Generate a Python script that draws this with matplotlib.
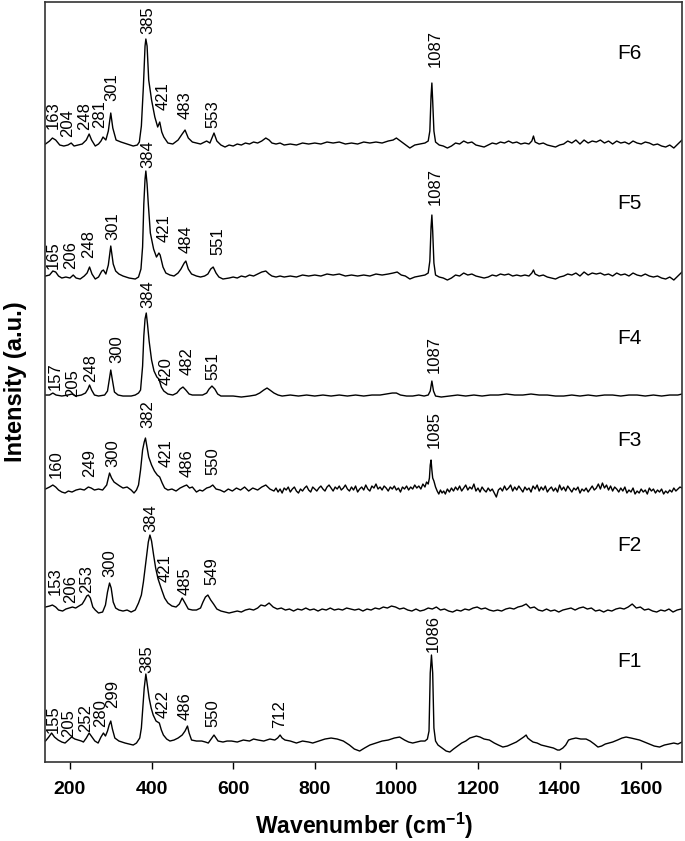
import matplotlib
matplotlib.use("Agg")
import matplotlib.pyplot as plt

plt.rcParams["font.family"] = ["Liberation Sans", "DejaVu Sans"]
plt.rcParams["mathtext.default"] = "regular"

# spectra: (wavenumber, intensity above own baseline, a.u.)
f6 = [(140,2),(150,5),(157,8),(165,6),(175,1),(185,0),(195,1),(203,3),(210,0),(220,1),(230,2),(240,6),(247,12),(253,6),(262,0),(270,2),(276,5),(281,9),(288,6),(294,15),(300,33),(305,18),(313,6),(325,4),(340,2),(355,0),(365,1),(370,4),(375,20),(380,60),(384,100),(386,107),(389,100),(393,66),(400,46),(408,29),(415,19),(420,24),(425,14),(430,9),(440,3),(452,2),(465,6),(475,12),(482,16),(490,8),(500,4),(510,3),(520,2),(535,5),(543,3),(553,13),(560,5),(570,1),(580,-1),(590,1),(600,0),(610,2),(620,1),(630,3),(640,2),(650,4),(660,3),(670,5),(680,8),(688,6),(695,3),(705,2),(715,3),(725,1),(740,2),(755,1),(770,3),(785,2),(800,3),(815,2),(830,4),(845,3),(860,4),(875,2),(890,3),(905,2),(920,4),(935,3),(950,4),(965,3),(980,5),(992,6),(1000,8),(1010,5),(1020,2),(1033,-2),(1045,1),(1058,2),(1070,3),(1078,5),(1082,15),(1085,50),(1087,63),(1089,45),(1092,15),(1096,4),(1105,1),(1115,0),(1125,-2),(1135,0),(1145,3),(1155,2),(1165,5),(1175,3),(1185,4),(1195,1),(1205,0),(1215,-1),(1225,1),(1235,3),(1245,2),(1255,4),(1265,3),(1275,5),(1285,3),(1295,4),(1305,2),(1315,3),(1325,2),(1332,5),(1336,10),(1340,4),(1350,2),(1360,3),(1370,1),(1380,0),(1390,-1),(1400,1),(1410,2),(1420,5),(1430,3),(1440,6),(1450,2),(1460,6),(1470,3),(1480,5),(1490,4),(1500,6),(1510,3),(1520,5),(1530,2),(1540,5),(1550,3),(1560,4),(1570,2),(1580,5),(1590,3),(1600,2),(1610,4),(1620,3),(1630,1),(1640,2),(1650,0),(1660,-1),(1670,1),(1680,-2),(1690,2),(1700,6)]

f5 = [(140,3),(150,4),(158,8),(165,7),(172,3),(180,1),(190,2),(200,1),(208,4),(215,1),(225,0),(235,3),(242,6),(248,12),(254,5),(262,0),(270,2),(278,8),(282,9),(288,5),(294,14),(300,33),(306,15),(312,8),(320,5),(330,3),(345,1),(360,0),(368,2),(374,10),(378,32),(381,75),(384,100),(386,108),(389,95),(392,75),(397,46),(405,30),(412,22),(418,26),(421,24),(428,12),(435,6),(445,4),(455,3),(465,6),(472,10),(480,16),(484,18),(490,10),(498,5),(510,3),(520,2),(530,3),(538,5),(545,10),(551,12),(558,6),(565,2),(575,0),(590,1),(600,2),(610,1),(620,3),(630,2),(640,4),(650,3),(660,5),(670,7),(680,8),(688,5),(695,3),(705,2),(715,3),(725,2),(740,3),(755,2),(770,4),(785,3),(800,4),(815,3),(830,5),(845,4),(860,5),(875,3),(890,4),(905,3),(920,4),(935,3),(950,5),(965,4),(980,5),(992,6),(1002,7),(1012,4),(1022,3),(1033,0),(1045,2),(1058,3),(1070,4),(1078,6),(1082,18),(1085,52),(1087,64),(1089,48),(1092,16),(1096,4),(1105,2),(1115,1),(1125,-1),(1135,1),(1145,4),(1155,3),(1165,6),(1175,4),(1185,5),(1195,3),(1205,2),(1215,1),(1225,2),(1235,4),(1245,3),(1255,5),(1265,4),(1275,5),(1285,3),(1295,4),(1305,3),(1315,4),(1325,3),(1332,6),(1336,9),(1340,5),(1350,3),(1360,4),(1370,2),(1380,1),(1390,0),(1400,2),(1410,3),(1420,5),(1430,4),(1440,6),(1450,3),(1460,7),(1470,4),(1480,6),(1490,5),(1500,6),(1510,4),(1520,5),(1530,3),(1540,6),(1550,4),(1560,5),(1570,3),(1580,6),(1590,4),(1600,3),(1610,5),(1620,3),(1630,2),(1640,3),(1650,1),(1660,0),(1670,2),(1680,-1),(1690,3),(1700,7)]

f4 = [(140,1),(150,1),(158,3),(166,1),(180,0),(195,1),(205,2),(215,0),(228,1),(238,3),(244,7),(248,11),(253,6),(260,1),(270,0),(285,1),(292,5),(297,18),(300,26),(304,16),(309,4),(318,1),(330,0),(350,0),(360,1),(368,3),(373,6),(378,30),(381,60),(384,77),(387,83),(390,72),(394,55),(400,36),(406,25),(413,19),(418,17),(424,9),(430,5),(440,2),(452,1),(462,3),(470,7),(477,9),(484,6),(492,2),(500,1),(515,1),(525,1),(535,3),(541,7),(548,10),(555,7),(562,2),(570,0),(585,0),(600,0),(620,-1),(640,0),(655,1),(665,3),(675,6),(683,8),(690,6),(700,3),(710,1),(720,0),(740,1),(760,0),(780,1),(800,0),(820,1),(840,0),(860,1),(880,0),(900,1),(920,0),(940,1),(960,1),(975,2),(990,3),(1000,3),(1010,1),(1025,0),(1040,0),(1055,1),(1068,0),(1078,1),(1083,5),(1087,15),(1091,5),(1096,0),(1110,-1),(1130,0),(1150,1),(1170,0),(1190,1),(1210,0),(1230,1),(1250,1),(1270,2),(1290,1),(1310,1),(1330,2),(1350,1),(1370,1),(1390,0),(1410,0),(1430,1),(1450,0),(1470,1),(1490,0),(1510,1),(1530,1),(1550,0),(1570,1),(1590,1),(1610,0),(1630,1),(1650,0),(1670,1),(1690,1),(1700,2)]

f3 = [(140,1),(150,3),(158,5),(165,3),(172,0),(180,-2),(188,-3),(196,-1),(205,-2),(215,0),(225,1),(235,0),(245,3),(252,2),(260,0),(270,1),(280,0),(290,5),(297,17),(302,12),(308,8),(315,6),(322,4),(330,2),(340,3),(350,0),(357,-3),(363,0),(368,5),(373,20),(378,40),(382,48),(385,52),(388,45),(393,33),(400,25),(407,19),(414,15),(420,13),(426,7),(432,2),(440,0),(450,1),(460,-1),(470,2),(480,4),(486,5),(493,2),(500,3),(510,-2),(518,0),(525,-1),(535,2),(543,3),(550,5),(558,1),(568,0),(578,-2),(588,1),(598,-1),(608,2),(618,0),(628,3),(638,-1),(648,2),(660,0),(670,3),(680,5),(690,1),
      (700,-1),(705,2),(710,-2),(715,1),(720,-3),(725,2),(730,0),(735,3),(740,-2),(745,1),(750,3),(755,-1),(760,-3),(765,1),(770,-1),(775,2),(780,4),(785,0),(790,-2),(795,3),(800,1),(805,-1),(810,2),(815,4),(820,1),(825,-1),(830,3),(835,5),(840,2),(845,-1),(850,3),(855,1),(860,4),(865,0),(870,2),(875,5),(880,1),(885,-1),(890,3),(895,0),(900,4),(905,-2),(910,1),(915,3),(920,0),(925,5),(930,1),(935,-1),(940,4),(945,2),(950,6),(955,1),(960,3),(965,0),(970,4),(975,2),(980,-1),(985,3),(990,1),(995,4),(1000,0),(1005,2),(1010,-2),(1015,3),(1020,1),(1025,4),(1030,0),(1035,3),(1040,1),(1045,5),(1050,2),(1055,4),(1060,1),(1065,6),(1070,3),(1074,8),(1078,6),(1081,12),(1083,25),(1085,30),(1087,20),(1089,12),(1092,9),(1096,3),(1100,-1),(1104,-4),(1108,0),(1112,-3),(1116,-1),(1120,-4),(1125,1),(1130,-2),(1135,2),(1140,-1),(1145,3),(1150,0),(1155,4),(1160,-1),(1165,2),(1170,5),(1175,0),(1180,3),(1185,1),(1190,6),(1195,-1),(1200,2),(1205,-2),(1210,3),(1215,0),(1220,-2),(1225,2),(1230,-1),(1235,1),(1240,-3),(1245,-7),(1250,0),(1255,2),(1260,-1),(1265,4),(1270,0),(1275,2),(1280,5),(1285,-1),(1290,3),(1295,0),(1300,4),(1305,1),(1310,-2),(1315,3),(1320,0),(1325,2),(1330,-2),(1335,4),(1340,1),(1345,5),(1350,-1),(1355,3),(1360,0),(1365,4),(1370,-2),(1375,1),(1380,3),(1385,-1),(1390,2),(1395,-2),(1400,5),(1405,0),(1410,3),(1415,-1),(1420,4),(1425,1),(1430,-2),(1435,2),(1440,0),(1445,3),(1450,-3),(1455,1),(1460,-1),(1465,2),(1470,-2),(1475,1),(1480,4),(1485,0),(1490,2),(1495,6),(1500,1),(1505,7),(1510,2),(1515,5),(1520,0),(1525,4),(1530,-1),(1535,3),(1540,1),(1545,-2),(1550,2),(1555,-1),(1560,3),(1565,-3),(1570,0),(1575,-2),(1580,2),(1585,-4),(1590,-1),(1595,-3),(1600,1),(1605,-2),(1610,0),(1615,-4),(1620,2),(1625,-1),(1630,1),(1635,-3),(1640,0),(1645,-2),(1650,1),(1655,-4),(1660,-1),(1665,-3),(1670,0),(1675,-2),(1680,2),(1685,-1),(1690,1),(1695,3),(1700,2)]

f2 = [(140,3),(150,4),(157,5),(165,3),(172,0),(182,-1),(190,1),(198,2),(206,3),(214,2),(222,4),(230,6),(236,10),(241,14),(245,15),(250,12),(256,3),(262,0),(270,-3),(280,-2),(287,5),(292,18),(297,27),(301,22),(306,8),(312,2),(320,0),(330,-1),(340,0),(350,-2),(360,0),(368,7),(375,15),(380,28),(387,51),(392,68),(396,75),(400,69),(405,55),(410,42),(416,31),(425,20),(432,12),(440,7),(450,4),(460,3),(468,6),(475,12),(482,7),(490,1),(500,0),(510,0),(520,2),(526,8),(532,13),(538,15),(545,10),(552,6),(560,1),(570,-1),(580,-2),(590,-3),(600,-2),(610,-1),(620,-2),(630,0),(640,1),(650,0),(660,2),(668,5),(678,4),(688,7),(698,3),(708,1),(718,2),(728,0),(738,1),(748,-1),(758,1),(768,0),(778,2),(788,0),(798,1),(808,-1),(818,1),(828,0),(838,2),(848,0),(858,1),(868,0),(878,2),(888,1),(898,0),(908,1),(918,-1),(928,1),(938,0),(948,2),(958,1),(968,3),(978,2),(988,4),(998,3),(1008,1),(1018,2),(1028,0),(1038,-1),(1048,1),(1058,-1),(1068,0),(1078,2),(1088,1),(1098,3),(1108,0),(1118,1),(1128,-1),(1138,-2),(1148,0),(1158,-1),(1168,1),(1178,0),(1188,2),(1198,3),(1208,1),(1218,2),(1228,0),(1238,-1),(1248,0),(1258,-1),(1268,1),(1278,2),(1288,1),(1298,3),(1308,4),(1318,6),(1328,2),(1338,3),(1348,0),(1358,-1),(1368,1),(1378,-1),(1388,0),(1398,-2),(1408,0),(1418,1),(1428,2),(1438,0),(1448,2),(1458,3),(1468,1),(1478,2),(1488,-1),(1498,0),(1508,-2),(1518,0),(1528,-1),(1538,1),(1548,2),(1558,1),(1568,3),(1578,6),(1588,2),(1598,3),(1608,0),(1618,1),(1628,-1),(1638,-2),(1648,0),(1658,-1),(1668,1),(1678,-2),(1688,0),(1698,1)]

f1 = [(140,2),(148,6),(155,10),(162,6),(171,3),(180,1),(188,0),(196,3),(204,6),(212,4),(220,3),(228,2),(233,1),(240,5),(247,10),(254,6),(261,2),(269,0),(276,6),(282,10),(287,7),(292,12),(296,18),(300,22),(304,14),(310,5),(320,2),(335,0),(345,-1),(355,-2),(363,0),(371,5),(375,15),(378,32),(382,55),(386,69),(390,57),(394,45),(399,35),(404,28),(411,22),(419,20),(424,13),(429,8),(437,4),(445,2),(455,3),(465,5),(475,8),(482,12),(488,17),(492,10),(498,3),(510,2),(523,2),(532,1),(539,0),(546,4),(553,8),(558,5),(563,2),(575,1),(585,2),(596,2),(610,1),(625,3),(640,2),(650,4),(661,3),(675,2),(690,4),(702,3),(709,5),(715,8),(720,5),(727,3),(740,2),(755,0),(770,2),(785,1),(795,0),(810,2),(825,4),(840,5),(855,4),(870,2),(885,-2),(897,-6),(910,-8),(922,-5),(935,-2),(950,0),(965,2),(980,3),(995,5),(1008,6),(1020,3),(1030,1),(1040,0),(1050,1),(1060,2),(1070,2),(1076,4),(1080,12),(1083,70),(1086,88),(1089,70),(1092,15),(1096,2),(1102,-2),(1112,-5),(1122,-8),(1131,-9),(1140,-6),(1150,-3),(1160,0),(1170,2),(1180,5),(1188,6),(1196,7),(1205,6),(1215,4),(1228,3),(1240,0),(1250,-2),(1261,-4),(1272,-3),(1283,-1),(1294,1),(1305,4),(1312,6),(1318,8),(1322,5),(1328,3),(1335,1),(1345,0),(1355,-2),(1365,-3),(1375,-4),(1385,-5),(1395,-7),(1400,-7),(1408,-5),(1415,-2),(1422,3),(1429,4),(1440,5),(1452,4),(1465,4),(1475,2),(1485,-1),(1494,-4),(1503,-3),(1512,-1),(1521,0),(1530,1),(1542,3),(1553,5),(1563,6),(1575,5),(1585,4),(1596,3),(1608,1),(1620,-1),(1632,-3),(1645,-4),(1657,-2),(1668,-1),(1680,0),(1690,-1),(1700,1)]

names = ["F1", "F2", "F3", "F4", "F5", "F6"]
spectra = [f1, f2, f3, f4, f5, f6]
offsets = [19, 152, 272, 366, 483, 616]

# peak labels
f1_peaks = ["155", "205", "252", "280", "299", "385", "422", "486", "550", "712", "1086"]
f2_peaks = ["153", "206", "253", "300", "384", "421", "485", "549"]
f3_peaks = ["160", "249", "300", "382", "421", "486", "550", "1085"]
f4_peaks = ["157", "205", "248", "300", "384", "420", "482", "551", "1087"]
f5_peaks = ["165", "206", "248", "301", "384", "421", "484", "551", "1087"]
f6_peaks = ["163", "204", "248", "281", "301", "385", "421", "483", "553", "1087"]
peak_labels = [f1_peaks, f2_peaks, f3_peaks, f4_peaks, f5_peaks, f6_peaks]

# where each label sits (x in cm-1, y = bottom of the text)
f1_pos = [(159, 29), (196, 25), (238, 30), (276, 35), (304, 54), (388, 89), (429, 44), (483, 42), (551, 35), (713, 34), (1090, 110)]
f2_pos = [(163, 167), (202, 159), (242, 169), (298, 185), (398, 230), (434, 180), (482, 167), (547, 177)]
f3_pos = [(167, 284), (247, 285), (306, 295), (392, 334), (435, 295), (486, 285), (551, 287), (1092, 314)]
f4_pos = [(163, 372), (207, 365), (251, 380), (316, 399), (390, 454), (435, 377), (486, 387), (551, 382), (1092, 389)]
f5_pos = [(159, 493), (202, 493), (246, 504), (306, 522), (390, 594), (431, 520), (485, 509), (563, 507), (1096, 557)]
f6_pos = [(159, 633), (194, 625), (237, 632), (273, 634), (302, 661), (390, 728), (429, 652), (483, 643), (551, 634), (1096, 695)]
label_pos = [f1_pos, f2_pos, f3_pos, f4_pos, f5_pos, f6_pos]
name_y = [101, 217, 322, 424, 559, 709]

fig = plt.figure(figsize=(6.85, 8.41), dpi=100)
ax = fig.add_axes([0.0664, 0.0939, 0.9292, 0.9037])

for spec, off in zip(spectra, offsets):
    x, y = zip(*spec)
    ax.plot(x, [v + off for v in y], color="black", lw=1.0)

for labels, pos in zip(peak_labels, label_pos):
    for txt, (px, py) in zip(labels, pos):
        ax.text(px, py, txt, rotation=90, ha="center", va="bottom", fontsize=12,
                family=["Liberation Sans Narrow", "Liberation Sans"])

for name, ny in zip(names, name_y):
    ax.text(1542, ny, name, ha="left", va="center", fontsize=15)

ax.set_xlim(140, 1700)
ax.set_ylim(0, 760)
ax.set_xticks(range(200, 1700, 200))
ax.set_yticks([])
ax.tick_params(axis="x", direction="out", length=5, width=1, pad=9, labelsize=14)
for lab in ax.get_xticklabels():
    lab.set_fontweight("bold")
for sp in ax.spines.values():
    sp.set_linewidth(1.2)
    sp.set_color("#333333")

ax.set_xlabel("Wavenumber (cm$^{-1}$)", fontsize=16.5, fontweight="bold")
ax.xaxis.set_label_coords(0.5, -0.064)
ax.xaxis.label.set_va("top")
ax.set_ylabel("Intensity (a.u.)", fontsize=17, fontweight="bold")
ax.yaxis.set_label_coords(-0.029, 0.5)

fig.savefig("out.png", dpi=100)
